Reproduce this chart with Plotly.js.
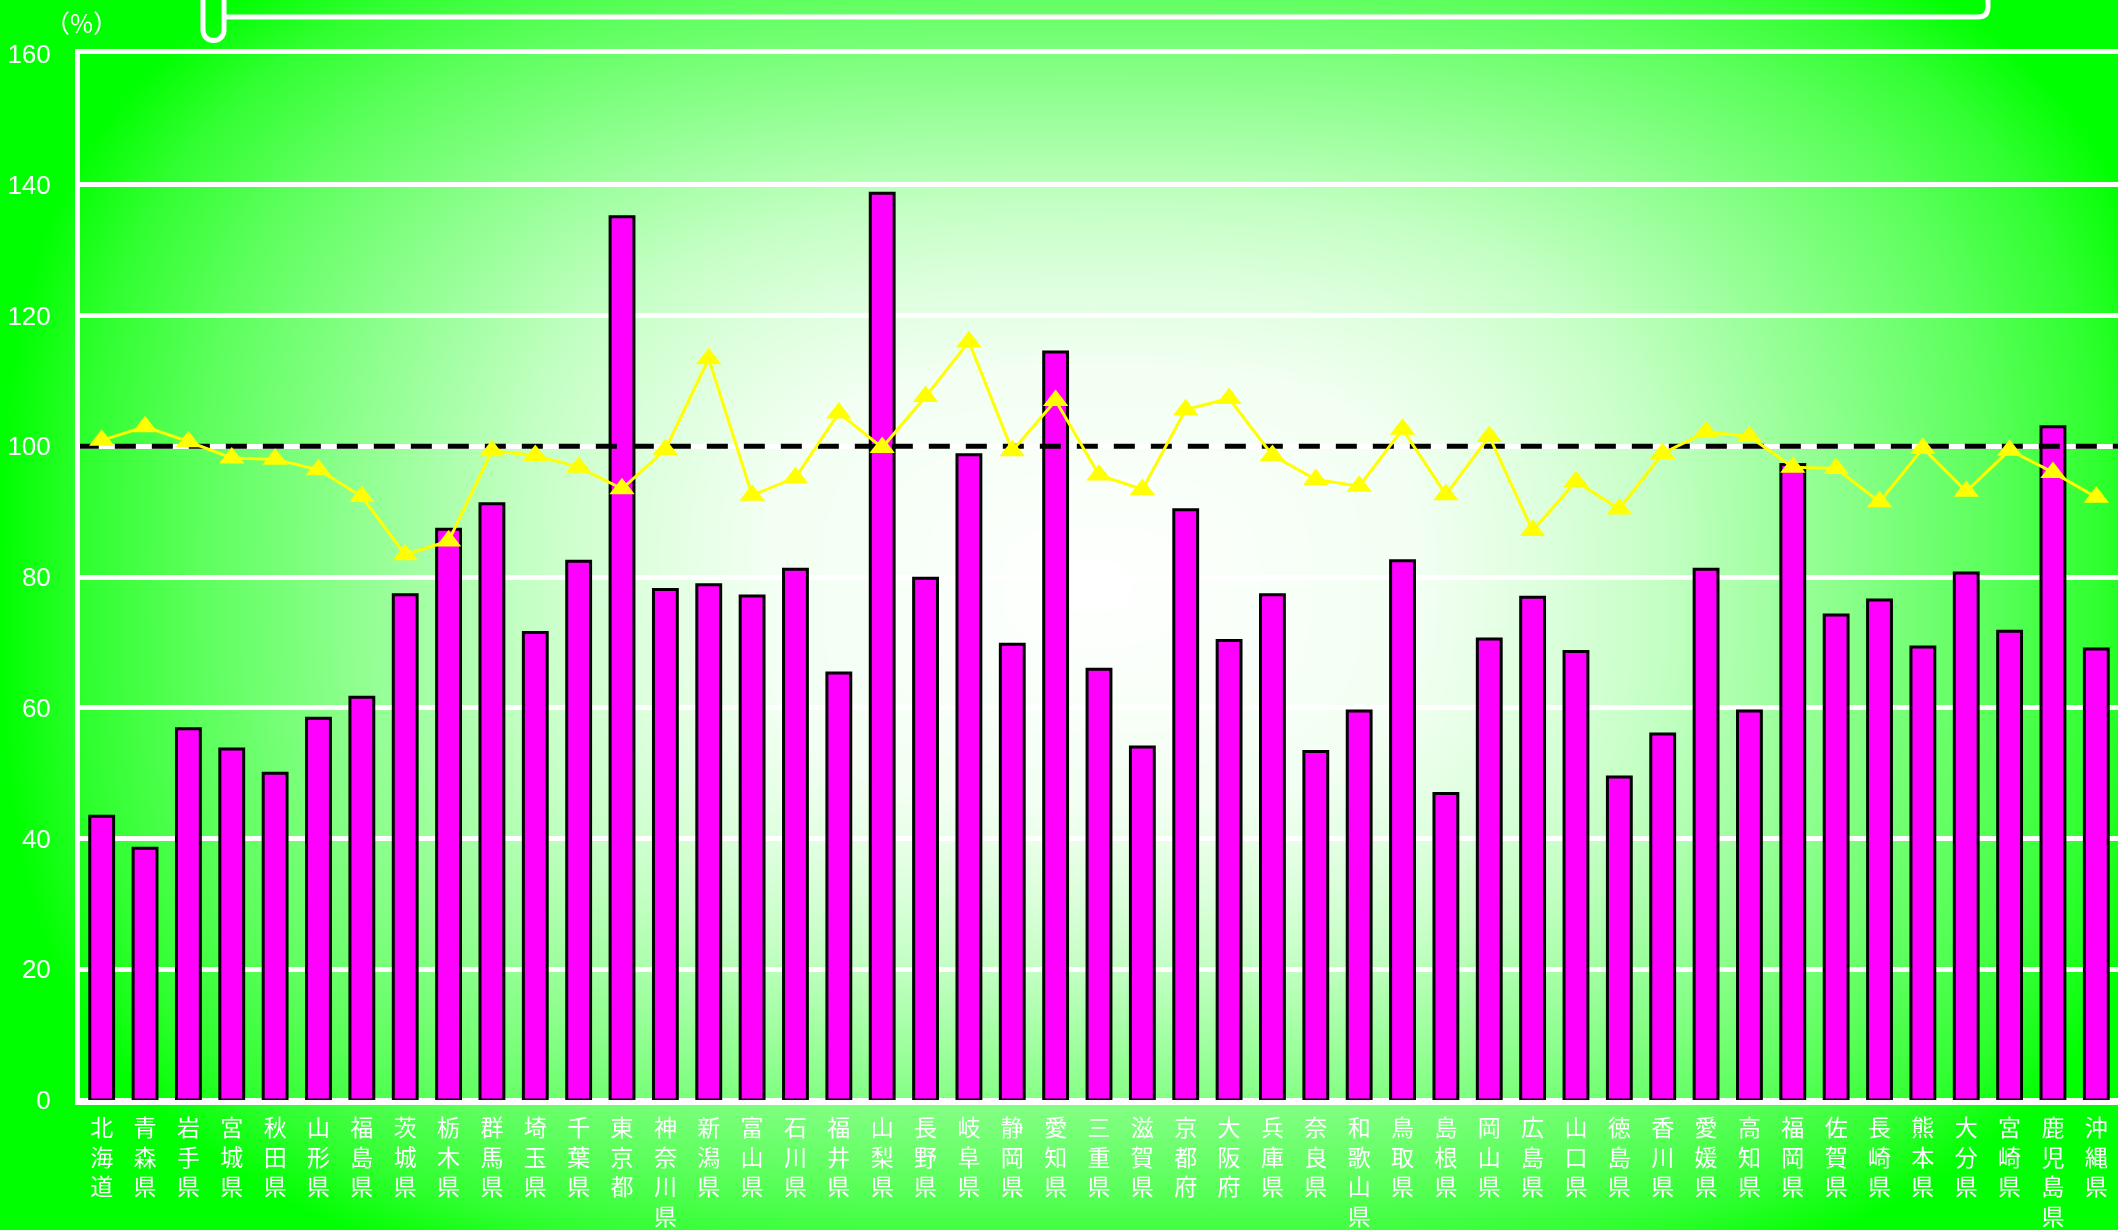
<!DOCTYPE html>
<html>
<head>
<meta charset="utf-8">
<script src="https://cdn.plot.ly/plotly-3.0.1.min.js"></script>
<style>
  html, body { margin: 0; padding: 0; width: 2118px; height: 1230px; overflow: hidden; background: #00ff00; }
  #bg { position: absolute; left: 0; top: 0; width: 2118px; height: 1230px; z-index: 0; }
  #chart { position: absolute; left: 0; top: 0; width: 2118px; height: 1230px; z-index: 1; }
</style>
</head>
<body>
<canvas id="bg" width="2118" height="1230"></canvas>
<div id="chart"></div>
<script>
// ---- data ----
const prefectures = ['北海道','青森県','岩手県','宮城県','秋田県','山形県','福島県','茨城県','栃木県','群馬県',
  '埼玉県','千葉県','東京都','神奈川県','新潟県','富山県','石川県','福井県','山梨県','長野県',
  '岐阜県','静岡県','愛知県','三重県','滋賀県','京都府','大阪府','兵庫県','奈良県','和歌山県',
  '鳥取県','島根県','岡山県','広島県','山口県','徳島県','香川県','愛媛県','高知県','福岡県',
  '佐賀県','長崎県','熊本県','大分県','宮崎県','鹿児島県','沖縄県'];

const barValues = [43.4, 38.5, 56.8, 53.7, 50.0, 58.4, 61.6, 77.3, 87.3, 91.2,
  71.5, 82.4, 135.1, 78.1, 78.8, 77.1, 81.2, 65.3, 138.7, 79.8,
  98.7, 69.7, 114.4, 65.9, 54.0, 90.3, 70.3, 77.3, 53.3, 59.5,
  82.5, 46.9, 70.5, 76.9, 68.6, 49.4, 56.0, 81.2, 59.5, 97.2,
  74.2, 76.5, 69.3, 80.6, 71.7, 103.0, 69.0];

const lineValues = [100.9, 103.0, 100.7, 98.2, 98.0, 96.4, 92.3, 83.4, 85.5, 99.3,
  98.6, 96.8, 93.5, 99.5, 113.4, 92.5, 95.2, 105.1, 99.8, 107.6,
  116.0, 99.3, 107.0, 95.6, 93.4, 105.6, 107.3, 98.6, 94.9, 93.9,
  102.6, 92.6, 101.5, 87.1, 94.6, 90.4, 98.9, 102.2, 101.5, 96.8,
  96.6, 91.5, 99.7, 93.1, 99.4, 96.0, 92.2];

const referenceLevel = 100;
const yTicks = [0, 20, 40, 60, 80, 100, 120, 140, 160];
const unitLabel = '（%）';

// ---- background: soft green-to-white gradient from the centre ----
(function paintBackground() {
  const cv = document.getElementById('bg');
  const ctx = cv.getContext('2d');
  const W = cv.width, H = cv.height;
  const img = ctx.createImageData(W, H);
  const cx = 1092, cy = 586, rx = 1092, ry = 732, p = 3;
  const stops = [[0, 1], [0.3, 0.95], [0.42, 0.863], [0.52, 0.77], [0.62, 0.635],
                 [0.72, 0.5], [0.82, 0.36], [0.92, 0.19], [1, 0]];
  function white(d) {
    if (d >= 1) return 0;
    for (let i = 1; i < stops.length; i++) {
      if (d <= stops[i][0]) {
        const a = stops[i - 1], b = stops[i];
        return a[1] + (b[1] - a[1]) * (d - a[0]) / (b[0] - a[0]);
      }
    }
    return 0;
  }
  for (let y = 0; y < H; y++) {
    const ay = Math.pow(Math.abs(y - cy) / ry, p);
    for (let x = 0; x < W; x++) {
      const ax = Math.pow(Math.abs(x - cx) / rx, p);
      const d = Math.pow(ax + ay, 1 / p);
      const w = Math.round(255 * white(d));
      const o = (y * W + x) * 4;
      img.data[o] = w; img.data[o + 1] = 255; img.data[o + 2] = w; img.data[o + 3] = 255;
    }
  }
  ctx.putImageData(img, 0, 0);
})();

// ---- derived ----
const idx = prefectures.map((_, i) => i);
const tickText = prefectures.map(p => p.split('').join('<br>'));

// pixel -> paper helpers for the decorative frame (plot area 80..2118 x 54..1100)
const PL = 80, PW = 2038, PB = 1100, PH = 1046;
const px = x => ((x - PL) / PW).toFixed(5);
const py = y => ((PB - y) / PH).toFixed(5);

const uPath = `M ${px(203)},${py(-20)} L ${px(203)},${py(30)} C ${px(203)},${py(44)} ${px(224)},${py(44)} ${px(224)},${py(30)} L ${px(224)},${py(-20)}`;
const boxPath = `M ${px(224)},${py(17)} L ${px(1978)},${py(17)} Q ${px(1988)},${py(17)} ${px(1988)},${py(7)} L ${px(1988)},${py(-20)}`;

const traces = [
  {
    type: 'bar', x: idx, y: barValues,
    marker: { color: '#ff00ff', line: { color: '#000000', width: 3 } },
    hoverinfo: 'skip'
  },
  {
    type: 'scatter', mode: 'lines', x: [-0.55, prefectures.length - 0.5], y: [referenceLevel, referenceLevel],
    line: { color: '#000000', width: 5, dash: '21px,16px' }, cliponaxis: false, hoverinfo: 'skip'
  },
  {
    type: 'scatter', mode: 'lines+markers', x: idx, y: lineValues,
    line: { color: '#ffff00', width: 3 },
    marker: { symbol: 'triangle-up', size: 22, color: '#ffff00' },
    cliponaxis: false, hoverinfo: 'skip'
  }
];

const layout = {
  width: 2118, height: 1230,
  margin: { l: 80, r: 0, t: 54, b: 130, pad: 0 },
  paper_bgcolor: 'rgba(0,0,0,0)', plot_bgcolor: 'rgba(0,0,0,0)',
  showlegend: false,
  bargap: 0.45,
  xaxis: {
    range: [-0.5, prefectures.length - 0.5],
    tickmode: 'array', tickvals: idx, ticktext: tickText, tickangle: 0,
    showgrid: false, zeroline: false,
    showline: true, linecolor: '#ffffff', linewidth: 5, mirror: true,
    ticks: '', ticklabelstandoff: 3,
    tickfont: { family: 'Noto Sans CJK JP', size: 23, color: '#ffffff' },
    fixedrange: true
  },
  yaxis: {
    range: [0, 160], tickmode: 'array', tickvals: yTicks,
    showgrid: true, gridcolor: '#ffffff', gridwidth: 5,
    showline: true, linecolor: '#ffffff', linewidth: 5,
    zeroline: true, zerolinecolor: '#ffffff', zerolinewidth: 5,
    ticks: '', ticklabelstandoff: 19,
    tickfont: { family: 'Liberation Sans, Arial, sans-serif', size: 26, color: '#ffffff' },
    fixedrange: true
  },
  annotations: [{
    text: unitLabel, xref: 'paper', yref: 'paper', x: Number(px(82)), y: Number(py(22)),
    xanchor: 'center', yanchor: 'middle', showarrow: false,
    font: { family: 'Noto Sans CJK JP', size: 25, color: '#ffffff' }
  }],
  shapes: [
    { type: 'path', xref: 'paper', yref: 'paper', path: uPath, line: { color: '#ffffff', width: 5 } },
    { type: 'path', xref: 'paper', yref: 'paper', path: boxPath, line: { color: '#ffffff', width: 5 } }
  ]
};

Plotly.newPlot('chart', traces, layout, { displayModeBar: false, staticPlot: true });
</script>
</body>
</html>
